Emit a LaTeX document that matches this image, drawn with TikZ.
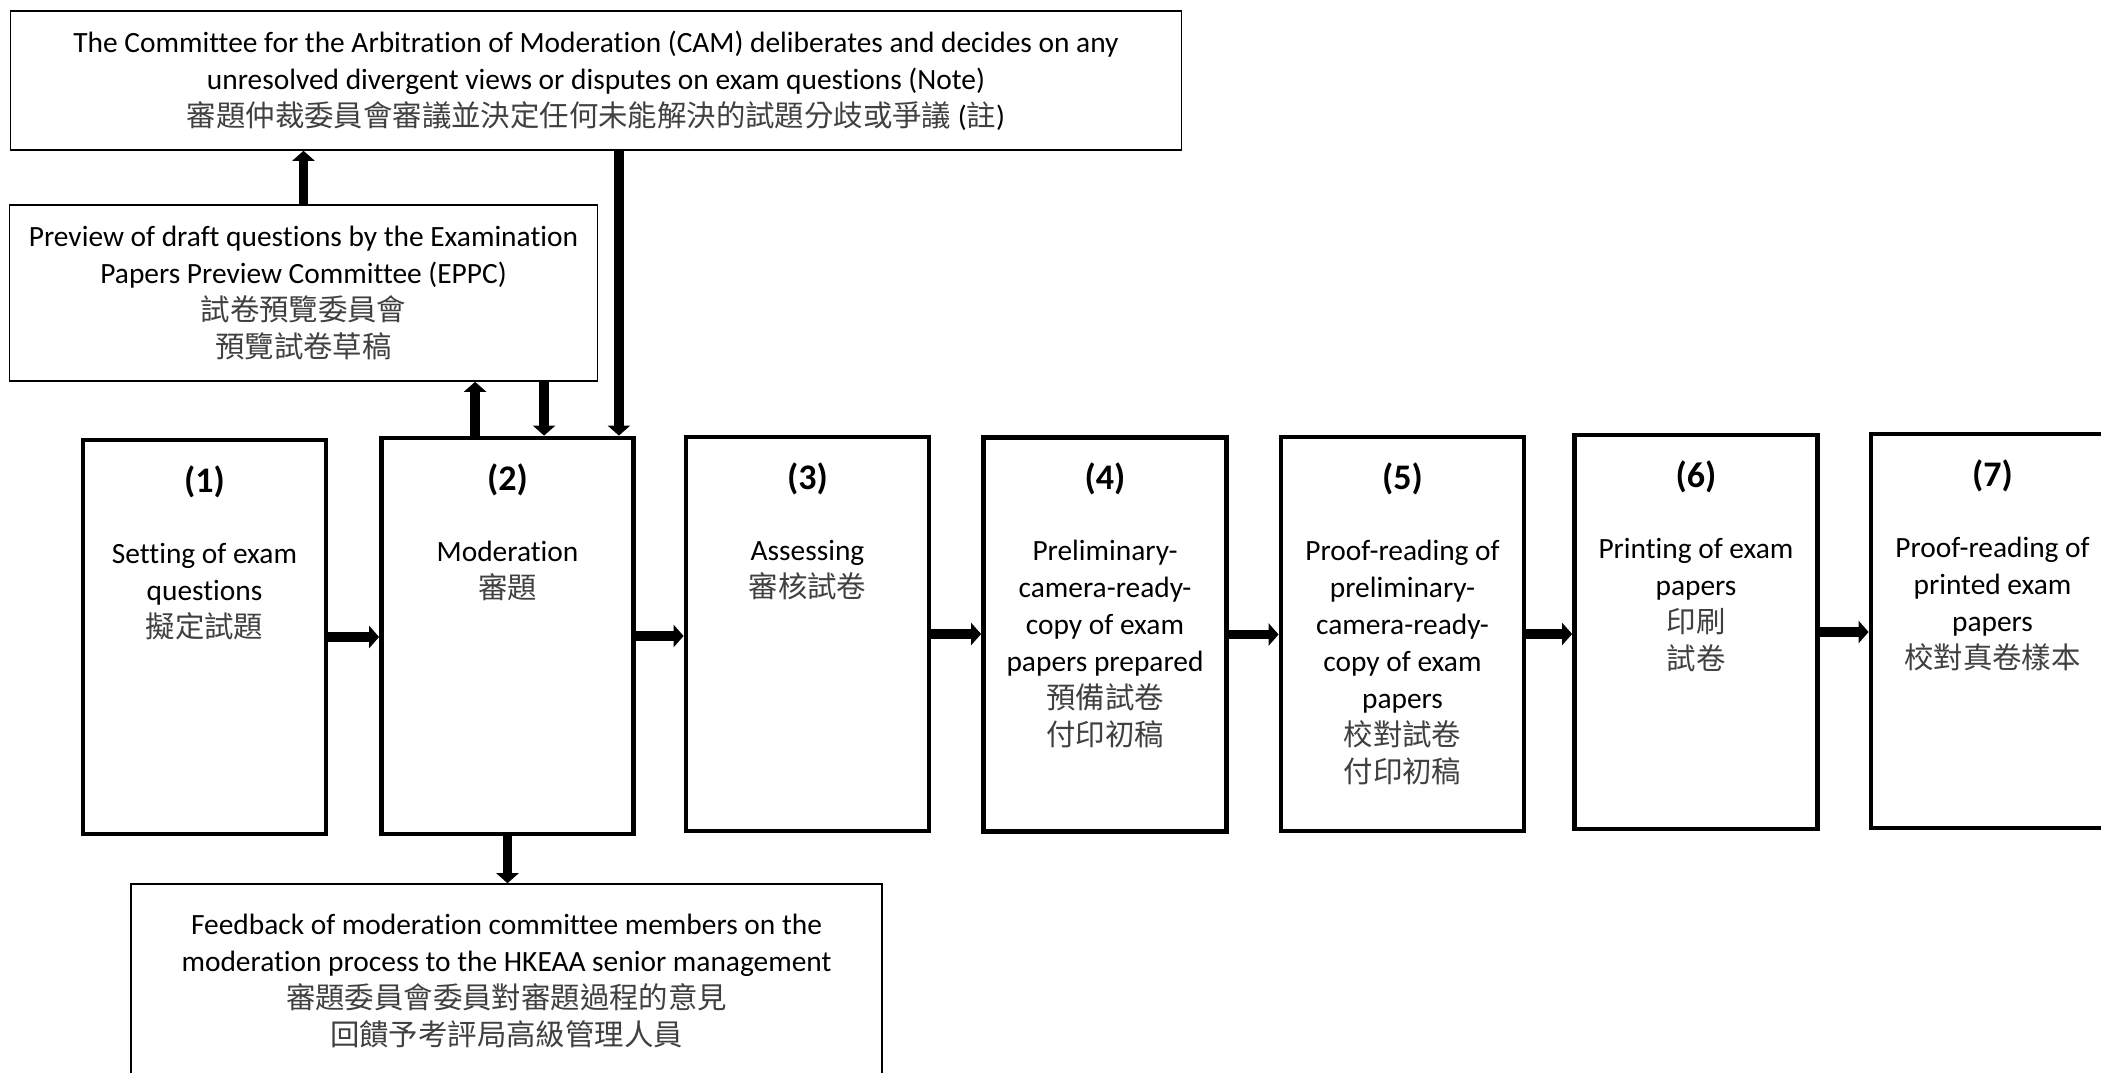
\documentclass[tikz,border=0pt]{standalone}
\usepackage{fontspec}
\setmainfont[Ligatures={NoCommon}]{Carlito}
\newfontfamily\cjk{Noto Sans CJK TC}
\usetikzlibrary{arrows.meta}
\newcommand\zh[1]{{\cjk\color{black!75}#1}}
\begin{document}
\begin{tikzpicture}[x=0.5pt,y=-0.5pt,font=\fontsize{14.7pt}{18.5pt}\selectfont]
\tikzset{
  stepbox/.style={draw, line width=2.4pt, rectangle, inner sep=0pt, minimum width=121.5pt, minimum height=197pt},
  notebox/.style={draw, line width=0.8pt, rectangle, inner sep=0pt, align=center},
  num/.style={font=\fontsize{18pt}{20pt}\selectfont\bfseries, inner sep=0pt},
  body/.style={align=center, anchor=north, inner sep=0pt},
  flow/.style={line width=4.8pt, -{Triangle[length=5pt,width=11pt]}}
}
\clip (0,0) rectangle (2101,1072);
\fill[white] (0,0) rectangle (2101,1072);

% top boxes
\node[notebox, minimum width=585.5pt, minimum height=69.5pt] (cam) at (596,80.5)
  {The Committee for the Arbitration of Moderation (CAM) deliberates and decides on any\\
   unresolved divergent views or disputes on exam questions (Note)\\
   \zh{審題仲裁委員會審議並決定任何未能解決的試題分歧或爭議} (\zh{註})};
\node[notebox, minimum width=294pt, minimum height=88pt] (eppc) at (303.5,293)
  {Preview of draft questions by the Examination\\
   Papers Preview Committee (EPPC)\\
   \zh{試卷預覽委員會}\\
   \zh{預覽試卷草稿}};
\node[notebox, minimum width=375.5pt, minimum height=97pt] (fb) at (506.5,981)
  {Feedback of moderation committee members on the\\
   moderation process to the HKEAA senior management\\
   \zh{審題委員會委員對審題過程的意見}\\
   \zh{回饋予考評局高級管理人員}};

% step boxes
\node[stepbox] (b1) at (204.5,637) {};
\node[stepbox, minimum width=126pt, minimum height=198pt] (b2) at (507.5,636) {};
\node[stepbox] (b3) at (807.5,634) {};
\node[stepbox] (b4) at (1105,634.5) {};
\node[stepbox] (b5) at (1402.5,634) {};
\node[stepbox] (b6) at (1696,632) {};
\node[stepbox] (b7) at (1992.5,631) {};

% numbers
\foreach \i in {1,...,7}{
  \node[num] (n\i) at ([yshift=-22pt]b\i.north) {(\i)};
}

% texts
\node[body] (t1) at ([yshift=-52.5pt]b1.north) {Setting of exam\\questions\\\zh{擬定試題}};
\node[body] (t2) at ([yshift=-52.5pt]b2.north) {Moderation\\\zh{審題}};
\node[body] (t3) at ([yshift=-52.5pt]b3.north) {Assessing\\\zh{審核試卷}};
\node[body] (t4) at ([yshift=-52.5pt]b4.north) {Preliminary-\\camera-ready-\\copy of exam\\papers prepared\\\zh{預備試卷}\\\zh{付印初稿}};
\node[body] (t5) at ([yshift=-52.5pt]b5.north) {Proof-reading of\\preliminary-\\camera-ready-\\copy of exam\\papers\\\zh{校對試卷}\\\zh{付印初稿}};
\node[body] (t6) at ([yshift=-52.5pt]b6.north) {Printing of exam\\papers\\\zh{印刷}\\\zh{試卷}};
\node[body] (t7) at ([yshift=-52.5pt]b7.north) {Proof-reading of\\printed exam\\papers\\\zh{校對真卷樣本}};

% horizontal flow
\draw[flow] (b1.east) -- (b1.east -| b2.west);
\draw[flow] (b2.east) -- (b2.east -| b3.west);
\draw[flow] (b3.east) -- (b3.east -| b4.west);
\draw[flow] (b4.east) -- (b4.east -| b5.west);
\draw[flow] (b5.east) -- (b5.east -| b6.west);
\draw[flow] (b6.east) -- (b6.east -| b7.west);

% vertical connectors
\draw[flow] (eppc.north) -- (eppc.north |- cam.south);
\draw[flow] ([xshift=-8.5pt]b2.north east |- cam.south) -- ([xshift=-8.5pt]b2.north east);
\draw[flow] ([xshift=48pt]b2.north west) -- ([xshift=48pt]b2.north west |- eppc.south);
\draw[flow] ([xshift=82.5pt]b2.north west |- eppc.south) -- ([xshift=82.5pt]b2.north west);
\draw[flow] (b2.south) -- (b2.south |- fb.north);
\end{tikzpicture}
\end{document}
